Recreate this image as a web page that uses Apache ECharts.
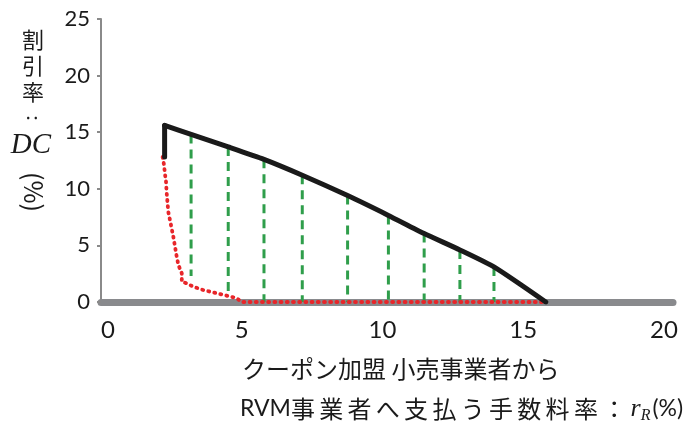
<!DOCTYPE html>
<html>
<head>
<meta charset="utf-8">
<script src="https://cdn.jsdelivr.net/npm/echarts@6/dist/echarts.min.js"></script>
<style>
  html, body { margin: 0; padding: 0; background: #fff; }
  #chart { width: 683px; height: 423px; }
</style>
</head>
<body>
<div id="chart"></div>
<script>
// Axis ticks
const xTicks = [0, 5, 10, 15, 20];
const yTicks = [0, 5, 10, 15, 20, 25];

// Upper bound of the discount rate DC (solid black): jump at the start, then a falling curve
const upperJumpX = [2.26, 2.26];
const upperJumpY = [12.8, 15.6];
const upperX = [2.26, 3.20, 4.52, 5.79, 7.15, 8.76, 10.21, 11.48, 12.75, 13.96, 15.80];
const upperY = [15.6, 14.8, 13.7, 12.6, 11.2, 9.4, 7.65, 6.05, 4.6, 3.1, 0.0];

// Lower bound of the discount rate DC (red dotted)
const lowerX = [2.19, 2.24, 2.27, 2.31, 2.33, 2.36, 2.39, 2.45, 2.51, 2.57, 2.63, 2.69, 2.75, 2.87, 2.87, 3.04, 3.28, 3.63, 4.11, 4.52, 4.82, 5.00, 15.70];
const lowerY = [12.82, 12.09, 11.36, 10.62, 9.74, 8.85, 7.97, 7.24, 6.50, 5.76, 4.88, 4.00, 3.27, 2.53, 1.79, 1.65, 1.35, 1.06, 0.77, 0.53, 0.33, 0.00, 0.00];

// Feasible ranges at sampled fee rates (green dashed)
const rangeX = [3.20, 4.52, 5.79, 7.15, 8.76, 10.21, 11.48, 12.75, 13.96];
const rangeTop = [14.8, 13.7, 12.6, 11.2, 9.4, 7.65, 6.05, 4.6, 3.1];
const rangeBottom = [2.3, 0.5, 0.0, 0.0, 0.0, 0.0, 0.0, 0.0, 0.0];

const LATIN = 'Lato, "Noto Sans", sans-serif';
const CJK = '"Noto Sans CJK JP", sans-serif';
const SERIF = '"Liberation Serif", "DejaVu Serif", serif';

const zip = (xs, ys) => xs.map((x, i) => [x, ys[i]]);

const rangeSeries = rangeX.map((x, i) => ({
  type: 'line',
  data: [[x, rangeTop[i]], [x, rangeBottom[i]]],
  symbol: 'none',
  silent: true,
  z: 2,
  lineStyle: { color: '#2f9e4b', width: 3, type: [9, 6] }
}));

const upperStyle = { color: '#1a1a1a', width: 5, join: 'round', cap: 'round' };

// spaced characters for the second line of the x-axis title
const line2Chars = '事業者へ支払う手数料率：'.split('').map(c => '{j|' + c + '}').join('');

const chart = echarts.init(document.getElementById('chart'), null, { renderer: 'canvas' });
chart.setOption({
  animation: false,
  backgroundColor: '#ffffff',
  grid: { left: 101, right: 10, top: 19, bottom: 121, containLabel: false },
  xAxis: {
    type: 'value',
    min: xTicks[0],
    max: 20.32,
    interval: 5,
    offset: 3,
    axisLine: { show: true, lineStyle: { color: '#898a8d', width: 7 } },
    axisTick: { show: false },
    splitLine: { show: false },
    axisLabel: {
      fontSize: 24,
      fontFamily: LATIN,
      color: '#1a1a1a',
      margin: 13,
      showMaxLabel: false,
      alignMinLabel: 'left',
      formatter: v => (xTicks.includes(v) ? String(v) : '')
    }
  },
  yAxis: {
    type: 'value',
    min: yTicks[0],
    max: yTicks[yTicks.length - 1],
    interval: 5,
    axisLine: { show: true, lineStyle: { color: '#8a8a8a', width: 2 } },
    axisTick: { show: true, length: 4, lineStyle: { color: '#8a8a8a', width: 2 } },
    splitLine: { show: false },
    axisLabel: { fontSize: 22, fontFamily: LATIN, color: '#1a1a1a', margin: 11 }
  },
  series: [
    ...rangeSeries,
    {
      type: 'line',
      data: zip(lowerX, lowerY),
      symbol: 'none',
      silent: true,
      z: 3,
      lineStyle: { color: '#e8262a', width: 3.8, type: [1, 5.2], cap: 'round' }
    },
    {
      type: 'line',
      data: zip(upperJumpX, upperJumpY),
      symbol: 'none',
      silent: true,
      z: 4,
      lineStyle: upperStyle
    },
    {
      type: 'line',
      data: zip(upperX, upperY),
      symbol: 'none',
      smooth: 0.2,
      silent: true,
      z: 4,
      lineStyle: upperStyle
    }
  ],
  graphic: [
    // y-axis title, written vertically
    { type: 'text', x: 33, y: 40, style: { text: '割', font: '22px ' + CJK, fill: '#1a1a1a', align: 'center', verticalAlign: 'middle' } },
    { type: 'text', x: 33, y: 66, style: { text: '引', font: '22px ' + CJK, fill: '#1a1a1a', align: 'center', verticalAlign: 'middle' } },
    { type: 'text', x: 33, y: 92, style: { text: '率', font: '22px ' + CJK, fill: '#1a1a1a', align: 'center', verticalAlign: 'middle' } },
    { type: 'text', x: 33, y: 118, rotation: -Math.PI / 2, style: { text: ':', font: '20px ' + LATIN, fill: '#1a1a1a', align: 'center', verticalAlign: 'middle' } },
    { type: 'text', x: 31, y: 145, style: { text: 'DC', font: 'italic 29px ' + SERIF, fill: '#1a1a1a', align: 'center', verticalAlign: 'middle' } },
    { type: 'text', x: 33, y: 192, rotation: -Math.PI / 2, style: { text: '(%)', font: '25px ' + CJK, fill: '#1a1a1a', align: 'center', verticalAlign: 'middle' } },
    // x-axis title
    { type: 'text', x: 242, y: 357, style: { text: 'クーポン加盟 小売事業者から', font: '24px ' + CJK, fill: '#1a1a1a' } },
    {
      type: 'text', x: 240, y: 394,
      style: {
        text: '{l|RVM}' + line2Chars + '{i|r}{s|R}{l|(%)}',
        fill: '#1a1a1a',
        rich: {
          l: { fontSize: 23, fontFamily: LATIN, lineHeight: 30, verticalAlign: 'middle' },
          j: { fontSize: 24, fontFamily: CJK, width: 28.3, lineHeight: 30, verticalAlign: 'middle' },
          i: { fontSize: 26, fontFamily: SERIF, fontStyle: 'italic', lineHeight: 30, verticalAlign: 'middle' },
          s: { fontSize: 16, fontFamily: SERIF, fontStyle: 'italic', lineHeight: 30, verticalAlign: 'bottom', padding: [12, 2, 0, 0] }
        }
      }
    }
  ]
});
</script>
</body>
</html>
